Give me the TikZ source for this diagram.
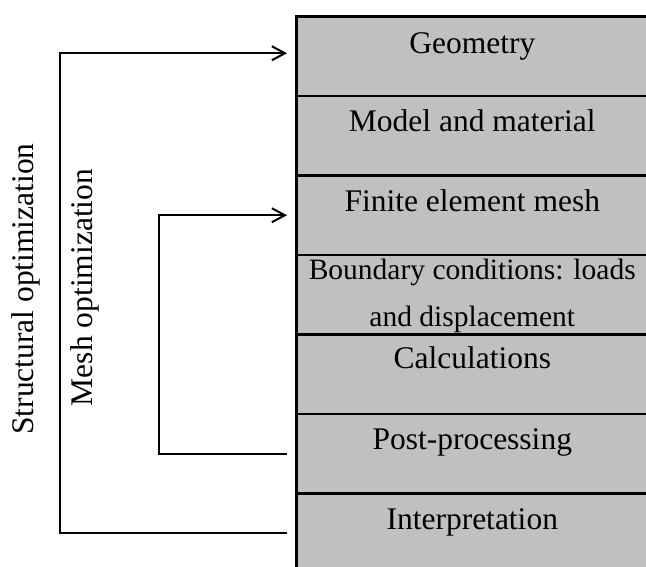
\documentclass[tikz,border=0pt]{standalone}
\usepackage{fontspec}
\setmainfont{Liberation Serif}
\usepackage{tikz}
\usetikzlibrary{arrows.meta}
\usetikzlibrary{positioning}
\definecolor{rowgray}{RGB}{192,192,192}

\begin{document}
\begin{tikzpicture}[x=0.5pt,y=0.5pt,
  stage/.style={draw,line width=1.2pt,fill=rowgray,minimum width=175.75pt,minimum height=39.75pt,inner sep=0pt,outer sep=0pt},
  stagetext/.style={anchor=base,inner sep=0pt,font=\fontsize{15.75}{18}\selectfont},
  sidetext/.style={rotate=90,inner sep=0pt,font=\fontsize{15.75}{18}\selectfont},
  loopline/.style={line width=1pt,-{Straight Barb[length=6.5pt,width=7pt,line width=1pt]}}]
\useasboundingbox (0,0) rectangle (646,566);
\node[stage,anchor=north west] (geo) at (296.5,549.5) {};
\node[stage,below=0pt of geo] (model) {};
\node[stage,below=0pt of model] (mesh) {};
\node[stage,below=0pt of mesh] (bc) {};
\node[stage,below=0pt of bc] (calc) {};
\node[stage,below=0pt of calc] (post) {};
\node[stage,below=0pt of post] (interp) {};
\node[stagetext] (geo-t) at ([yshift=-18.5pt]geo.north) {Geometry};
\node[stagetext] (model-t) at ([yshift=-18pt]model.north) {Model and material};
\node[stagetext] (mesh-t) at ([yshift=-18pt]mesh.north) {Finite element mesh};
\node[stagetext,align=center,font=\fontsize{14.75}{23.35}\selectfont] (bc-t) at ([yshift=-35.85pt]bc.north) {Boundary conditions: loads\\and displacement};
\node[stagetext] (calc-t) at ([yshift=-17pt]calc.north) {Calculations};
\node[stagetext] (post-t) at ([yshift=-18pt]post.north) {Post-processing};
\node[stagetext] (interp-t) at ([yshift=-18pt]interp.north) {Interpretation};
\node[sidetext] (struct-t) at (26,277) {Structural optimization};
\node[sidetext] (meshopt-t) at (85,278.5) {Mesh optimization};
\draw[loopline] ([xshift=-4.75pt]interp.west) -- ++(-227,0) |- ([xshift=-4.75pt,yshift=1.5pt]geo.west);
\draw[loopline] ([xshift=-4.75pt]post.west) -- ++(-128.3,0) |- ([xshift=-4.75pt]mesh.west);
\end{tikzpicture}
\end{document}
